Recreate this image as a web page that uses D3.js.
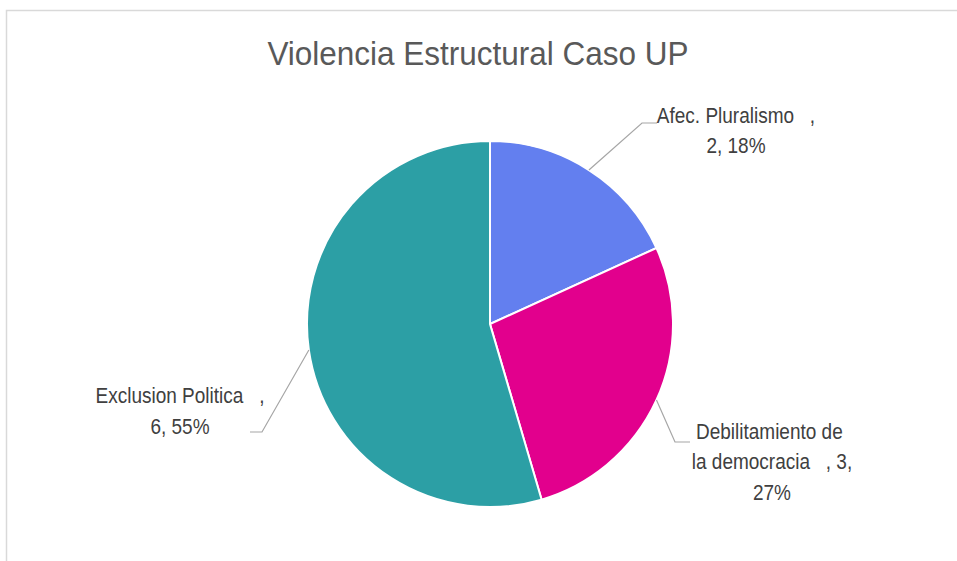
<!DOCTYPE html>
<html lang="es">
<head>
<meta charset="UTF-8">
<title>Violencia Estructural Caso UP</title>
<script src="https://d3js.org/d3.v7.min.js"></script>
<style>
  body { margin: 0; background: #fff; }
  svg text { font-family: "Liberation Sans", Arial, sans-serif; }
</style>
</head>
<body>
<div id="chart"></div>
<script>
// datos del grafico
const categories = ["Afec. Pluralismo", "Debilitamiento de la democracia", "Exclusion Politica"];
const values = [2, 3, 6];
const colors = ["#637FEF", "#E2008D", "#2C9FA5"];
// lineas de cada etiqueta (como se ven en el original)
const labelLines = [
  ["Afec. Pluralismo   ,", "2, 18%"],
  ["Debilitamiento de ", "la democracia   , 3,", "27%"],
  ["Exclusion Politica   ,", "6, 55%"]
];

const width = 957, height = 561;
const cx = 490, cy = 324, r = 183;
const stretch = 1.18; // el original esta algo estirado en vertical

const svg = d3.select('#chart').append('svg')
  .attr('width', width).attr('height', height);

// borde del area del grafico
svg.append('path')
  .attr('d', `M6.5,${height} V10.5 H${width}`)
  .attr('fill', 'none').attr('stroke', '#d9d9d9').attr('stroke-width', 1.5);

svg.append('text')
  .attr('transform', 'translate(478,65) scale(1,1.05)')
  .attr('text-anchor', 'middle')
  .attr('font-size', 31.5)
  .attr('fill', '#595959')
  .text('Violencia Estructural Caso UP');

const data = categories.map((c, i) => ({ name: c, value: values[i], color: colors[i], lines: labelLines[i] }));

const pie = d3.pie().value(d => d.value).sort(null);
const arcs = pie(data);
const arc = d3.arc().innerRadius(0).outerRadius(r);

const g = svg.append('g').attr('transform', `translate(${cx},${cy})`);

g.selectAll('path.slice')
  .data(arcs)
  .enter().append('path')
  .attr('class', 'slice')
  .attr('d', arc)
  .attr('fill', d => d.data.color)
  .attr('stroke', '#fff')
  .attr('stroke-width', 2);

// posiciones de las etiquetas (codo de la linea guia y texto)
const layout = [
  { elbow: [642, 123], end: [657, 123], tx: 736, ty: 123, gap: 30 },
  { elbow: [675, 442], end: [690, 442], tx: 772, ty: 439, gap: 30.5 },
  { elbow: [262, 432], end: [250, 432], tx: 180, ty: 403, gap: 31 }
];

const edge = d3.arc().innerRadius(r).outerRadius(r);

arcs.forEach((d, i) => {
  const p = edge.centroid(d);
  const L = layout[i];
  svg.append('polyline')
    .attr('points', [[p[0] + cx, p[1] + cy], L.elbow, L.end].map(q => q.join(',')).join(' '))
    .attr('fill', 'none')
    .attr('stroke', '#a6a6a6')
    .attr('stroke-width', 1.2);

  const t = svg.append('text')
    .attr('transform', `translate(${L.tx},${L.ty}) scale(1,${stretch})`)
    .attr('text-anchor', 'middle')
    .attr('font-size', 19)
    .attr('fill', '#404040');
  d.data.lines.forEach((ln, j) => {
    t.append('tspan')
      .attr('x', 0)
      .attr('y', j * L.gap / stretch)
      .style('white-space', 'pre')
      .text(ln);
  });
});
</script>
</body>
</html>
